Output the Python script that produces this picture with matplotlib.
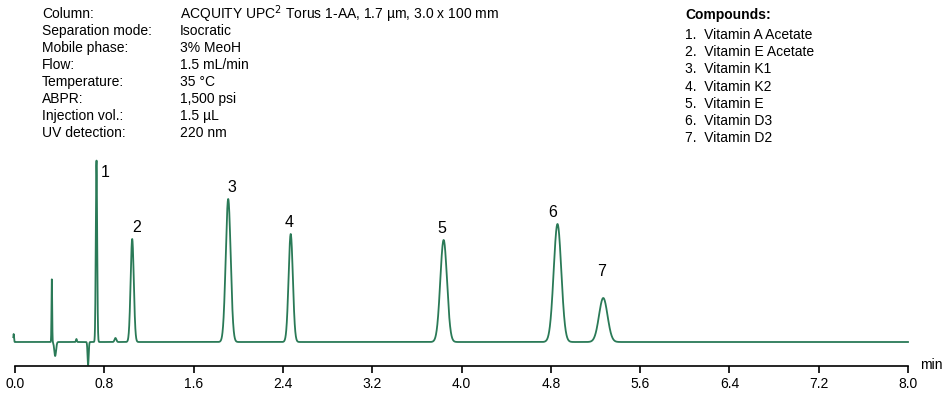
import numpy as np
import matplotlib.pyplot as plt

plt.rcParams['font.family'] = ['Liberation Sans', 'DejaVu Sans']

# peaks: retention time (min), height (detector units), width sigma (min)
peak_labels = ['1', '2', '3', '4', '5', '6', '7']
peak_times = [0.73, 1.05, 1.91, 2.47, 3.84, 4.86, 5.27]
peak_heights = [182, 103, 143, 108, 102, 118, 44]
peak_sigmas = [0.006, 0.014, 0.022, 0.019, 0.030, 0.034, 0.038]

# injection disturbances near the void
dist_times = [-0.012, 0.33, 0.36, 0.55, 0.655, 0.90]
dist_heights = [8, 63, -14, 3, -23, 4]
dist_sigmas = [0.003, 0.003, 0.008, 0.004, 0.005, 0.008]

conditions = [
    ('Column:', 'ACQUITY UPC$^2$ Torus 1-AA, 1.7 µm, 3.0 x 100 mm'),
    ('Separation mode:', 'Isocratic'),
    ('Mobile phase:', '3% MeoH'),
    ('Flow:', '1.5 mL/min'),
    ('Temperature:', '35 °C'),
    ('ABPR:', '1,500 psi'),
    ('Injection vol.:', '1.5 µL'),
    ('UV detection:', '220 nm'),
]
compounds = ['Vitamin A Acetate', 'Vitamin E Acetate', 'Vitamin K1', 'Vitamin K2',
             'Vitamin E', 'Vitamin D3', 'Vitamin D2']

x_ticks = [0.0, 0.8, 1.6, 2.4, 3.2, 4.0, 4.8, 5.6, 6.4, 7.2, 8.0]

t = np.linspace(-0.015, 8.0, 8000)
signal = np.zeros_like(t)
for rt, h, s in zip(peak_times + dist_times, peak_heights + dist_heights,
                    peak_sigmas + dist_sigmas):
    signal += h * np.exp(-0.5 * ((t - rt) / s) ** 2)

fig = plt.figure(figsize=(9.5, 3.94), dpi=100)
ax = fig.add_axes([15 / 950, (394 - 366) / 394, (908 - 15) / 950, (366 - 150) / 394])
ax.plot(t, signal, color='#2a7a57', lw=1.3, clip_on=False)
ax.set_xlim(0, 8)
ax.set_ylim(-24, 192)

for sp in ['top', 'right', 'left']:
    ax.spines[sp].set_visible(False)
ax.spines['bottom'].set_linewidth(1.2)
ax.set_yticks([])
ax.set_xticks(x_ticks)
ax.set_xticklabels([f'{v:.1f}' for v in x_ticks])
ax.tick_params(axis='x', direction='out', length=5, width=1.2, labelsize=10, pad=3)
ax.text(1.014, 0.005, 'min', transform=ax.transAxes, fontsize=10, va='center', ha='left')

# label offsets in points from each peak apex
label_dx = [6, 3, 3, -1, -1.5, -3.5, -1.5]
label_dy = [-9, 8, 8, 8, 8, 8, 19]
for lab, rt, h, dx, dy in zip(peak_labels, peak_times, peak_heights, label_dx, label_dy):
    ax.annotate(lab, (rt, h), xytext=(dx, dy), textcoords='offset points',
                ha='center', va='center', fontsize=11.5)

# method conditions
for i, (k, v) in enumerate(conditions):
    y = 1 - (14 + 17 * i) / 394
    fig.text(42 / 950, y, k, fontsize=10, va='center')
    fig.text(180 / 950, y, v, fontsize=10, va='center')

fig.text(685 / 950, 1 - 15 / 394, 'Compounds:', fontsize=10, weight='bold', va='center')
for i, c in enumerate(compounds):
    y = 1 - (35 + 17.2 * i) / 394
    fig.text(685 / 950, y, f'{i + 1}.  {c}', fontsize=10, va='center')

fig.savefig('out.png', dpi=100)
